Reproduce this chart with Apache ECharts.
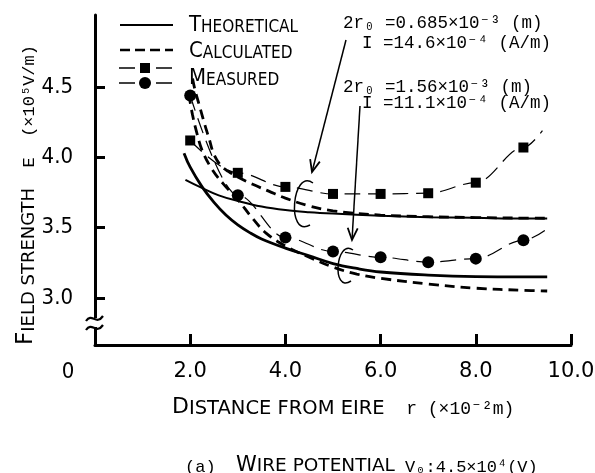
<!DOCTYPE html>
<html><head><meta charset="utf-8">
<script src="https://cdn.jsdelivr.net/npm/echarts@6/dist/echarts.min.js"></script>
<style>html,body{margin:0;padding:0;background:#fff}#c{width:595px;height:473px}</style>
</head><body><div id="c"></div>
<script>
// ---- data ----
const xTickValues = [2, 4, 6, 8, 10];
const yTickValues = [3.0, 3.5, 4.0, 4.5];

const theoUpperX = [1.9, 2.2, 2.6, 3.0, 3.5, 4.0, 4.5, 5.0, 6.0, 7.0, 8.0, 9.0, 9.5];
const theoUpperY = [3.84, 3.79, 3.73, 3.69, 3.65, 3.625, 3.61, 3.60, 3.585, 3.575, 3.57, 3.565, 3.565];
const theoLowerX = [1.87, 2.0, 2.25, 2.5, 2.75, 3.0, 3.25, 3.5, 4.0, 4.5, 5.0, 5.5, 6.0, 7.0, 8.0, 9.0, 9.5];
const theoLowerY = [4.03, 3.93, 3.79, 3.68, 3.59, 3.52, 3.465, 3.42, 3.355, 3.30, 3.245, 3.21, 3.185, 3.163, 3.152, 3.15, 3.15];
const calcUpperX = [2.05, 2.1, 2.2, 2.3, 2.4, 2.5, 2.65, 2.8, 3.0, 3.3, 3.65, 4.0, 4.5, 5.0, 6.0, 7.0, 8.0, 9.0, 9.5];
const calcUpperY = [4.56, 4.48, 4.36, 4.24, 4.13, 4.02, 3.94, 3.90, 3.86, 3.81, 3.76, 3.71, 3.655, 3.62, 3.59, 3.578, 3.572, 3.568, 3.567];
const calcLowerX = [1.97, 2.05, 2.15, 2.25, 2.45, 2.7, 3.0, 3.3, 3.6, 4.0, 4.5, 5.0, 5.5, 6.0, 7.0, 8.0, 9.0, 9.5];
const calcLowerY = [4.45, 4.30, 4.16, 4.05, 3.92, 3.81, 3.70, 3.57, 3.46, 3.37, 3.29, 3.22, 3.17, 3.14, 3.10, 3.07, 3.055, 3.05];
const measX = [2, 3, 4, 5, 6, 7, 8, 9];
const measSquareY = [4.12, 3.89, 3.79, 3.74, 3.74, 3.745, 3.82, 4.07];
const measCircleY = [4.44, 3.73, 3.43, 3.33, 3.29, 3.255, 3.28, 3.41];
const squareLineEnd = [9.4, 4.19];
const circleLineEnd = [9.45, 3.48];

const NARROW = '"DejaVu Sans Condensed","Liberation Sans Narrow","Roboto Condensed","DejaVu Sans",sans-serif';
const WIDE = '"DejaVu Sans",sans-serif';
const MONO = '"Liberation Mono","DejaVu Sans Mono",monospace';

const pairs = (xs, ys) => xs.map((x, i) => [x, ys[i]]);

const chart = echarts.init(document.getElementById('c'), null, {renderer: 'canvas'});

const legendCaps = {
  b: {fontFamily: NARROW, fontSize: 22, color: '#000', verticalAlign: 'bottom', lineHeight: 24},
  s: {fontFamily: NARROW, fontSize: 17, color: '#000', verticalAlign: 'bottom', lineHeight: 22}
};
const titleCaps = {
  b: {fontFamily: WIDE, fontSize: 23, color: '#000', verticalAlign: 'bottom', lineHeight: 26},
  s: {fontFamily: WIDE, fontSize: 18, color: '#000', verticalAlign: 'bottom', lineHeight: 23},
  m: {fontFamily: MONO, fontSize: 17, color: '#000', verticalAlign: 'bottom', lineHeight: 23}
};
const xTitleCaps = {
  b: {fontFamily: WIDE, fontSize: 22, color: '#000', verticalAlign: 'bottom', lineHeight: 25},
  s: {fontFamily: WIDE, fontSize: 19.5, color: '#000', verticalAlign: 'bottom', lineHeight: 24},
  m: {fontFamily: MONO, fontSize: 18, color: '#000', verticalAlign: 'bottom', lineHeight: 24}
};
const captionCaps = {
  b: {fontFamily: WIDE, fontSize: 21, color: '#000', verticalAlign: 'bottom', lineHeight: 24},
  s: {fontFamily: WIDE, fontSize: 18.5, color: '#000', verticalAlign: 'bottom', lineHeight: 23},
  m: {fontFamily: MONO, fontSize: 17, color: '#000', verticalAlign: 'bottom', lineHeight: 23}
};

function arrow(x1, y1, x2, y2) {
  const dx = x2 - x1, dy = y2 - y1, L = Math.hypot(dx, dy);
  const ux = dx / L, uy = dy / L, px = -uy, py = ux;
  const bx = x2 - 12 * ux, by = y2 - 12 * uy;
  return [
    {type: 'line', shape: {x1, y1, x2, y2}, style: {stroke: '#000', lineWidth: 1.5}, z: 100},
    {type: 'polyline', shape: {points: [[bx + 5 * px, by + 5 * py], [x2, y2], [bx - 5 * px, by - 5 * py]]},
     style: {stroke: '#000', lineWidth: 1.8, fill: null}, z: 100}
  ];
}

const annStyle = {fontFamily: MONO, fontSize: 17.5, fill: '#000', verticalAlign: 'middle', align: 'left'};

const graphics = [
  // legend
  {type: 'line', shape: {x1: 120, y1: 25, x2: 173, y2: 25}, style: {stroke: '#000', lineWidth: 2}},
  {type: 'line', shape: {x1: 120, y1: 50, x2: 173, y2: 50}, style: {stroke: '#000', lineWidth: 2.5, lineDash: [10, 5]}},
  {type: 'line', shape: {x1: 119, y1: 68, x2: 135, y2: 68}, style: {stroke: '#000', lineWidth: 1.5}},
  {type: 'line', shape: {x1: 156, y1: 68, x2: 172, y2: 68}, style: {stroke: '#000', lineWidth: 1.5}},
  {type: 'rect', shape: {x: 140, y: 63, width: 10, height: 10}, style: {fill: '#000'}},
  {type: 'line', shape: {x1: 119, y1: 83, x2: 135, y2: 83}, style: {stroke: '#000', lineWidth: 1.5}},
  {type: 'line', shape: {x1: 156, y1: 83, x2: 172, y2: 83}, style: {stroke: '#000', lineWidth: 1.5}},
  {type: 'circle', shape: {cx: 145, cy: 83, r: 6}, style: {fill: '#000'}},
  {type: 'text', x: 189, y: 24, style: {text: '{b|T}{s|HEORETICAL}', rich: legendCaps, verticalAlign: 'middle'}},
  {type: 'text', x: 189, y: 50, style: {text: '{b|C}{s|ALCULATED}', rich: legendCaps, verticalAlign: 'middle'}},
  {type: 'text', x: 189, y: 77, style: {text: '{b|M}{s|EASURED}', rich: legendCaps, verticalAlign: 'middle'}},
  // annotations
  {type: 'text', x: 343, y: 23, style: Object.assign({text: '2r\u2080 =0.685\u00d710\u207b\u00b3 (m)'}, annStyle)},
  {type: 'text', x: 362, y: 43, style: Object.assign({text: 'I =14.6\u00d710\u207b\u2074 (A/m)'}, annStyle)},
  {type: 'text', x: 343, y: 87, style: Object.assign({text: '2r\u2080 =1.56\u00d710\u207b\u00b3 (m)'}, annStyle)},
  {type: 'text', x: 362, y: 103, style: Object.assign({text: 'I =11.1\u00d710\u207b\u2074 (A/m)'}, annStyle)},
  ...arrow(346, 40, 312, 172),
  ...arrow(360, 106, 352, 240),
  // brackets grouping the curves
  {type: 'bezierCurve', shape: {x1: 313, y1: 183, cpx1: 292, cpy1: 168, cpx2: 286, cpy2: 238, x2: 310, y2: 225},
   style: {stroke: '#000', lineWidth: 1.5, fill: null}, z: 100},
  {type: 'bezierCurve', shape: {x1: 353, y1: 250, cpx1: 336, cpy1: 238, cpx2: 331, cpy2: 294, x2: 351, y2: 281},
   style: {stroke: '#000', lineWidth: 1.5, fill: null}, z: 100},
  // y axis break
  {type: 'rect', shape: {x: 89, y: 318, width: 12, height: 9}, style: {fill: '#fff'}, z: 100},
  {type: 'bezierCurve', shape: {x1: 86, y1: 321, cpx1: 92, cpy1: 312, cpx2: 96, cpy2: 326, x2: 103, y2: 316},
   style: {stroke: '#000', lineWidth: 2.2, fill: null}, z: 101},
  {type: 'bezierCurve', shape: {x1: 86, y1: 330, cpx1: 92, cpy1: 321, cpx2: 96, cpy2: 335, x2: 103, y2: 325},
   style: {stroke: '#000', lineWidth: 2.2, fill: null}, z: 101},
  // origin label
  {type: 'text', x: 68, y: 372, style: {text: '0', fontFamily: NARROW, fontSize: 22, fill: '#000', align: 'center', verticalAlign: 'middle'}},
  // axis titles
  {type: 'text', x: 25, y: 195, rotation: Math.PI / 2,
   style: {text: '{b|F}{s|IELD STRENGTH}{m|  E  (\u00d710\u2075V/m)}', rich: titleCaps, align: 'center', verticalAlign: 'middle'}},
  {type: 'text', x: 172, y: 406,
   style: {text: '{b|D}{s|ISTANCE FROM EIRE}{m|  r (\u00d710\u207b\u00b2m)}', rich: xTitleCaps, align: 'left', verticalAlign: 'middle'}},
  {type: 'text', x: 185, y: 464,
   style: {text: '{m|(a)  }{b|W}{s|IRE POTENTIAL}{m| V\u2080:4.5\u00d710\u2074(V)}', rich: captionCaps, align: 'left', verticalAlign: 'middle'}}
];

const option = {
  animation: false,
  backgroundColor: '#fff',
  grid: {left: 95, right: 24, top: 15, bottom: 128, outerBoundsMode: 'none'},
  xAxis: {
    type: 'value', min: 0, max: 10,
    axisLine: {onZero: false, lineStyle: {color: '#000', width: 3}},
    axisTick: {inside: true, length: 11, customValues: xTickValues, lineStyle: {color: '#000', width: 3}},
    axisLabel: {customValues: xTickValues, formatter: v => v.toFixed(1), margin: 16, fontSize: 21, fontFamily: WIDE, color: '#000'},
    splitLine: {show: false}
  },
  yAxis: {
    type: 'value', min: 2.666, max: 5.012,
    axisLine: {show: true, onZero: false, lineStyle: {color: '#000', width: 3}},
    axisTick: {show: true, inside: true, length: 10, customValues: yTickValues, lineStyle: {color: '#000', width: 3}},
    axisLabel: {customValues: yTickValues, formatter: v => v.toFixed(1), margin: 22, fontSize: 22, fontFamily: NARROW, color: '#000'},
    splitLine: {show: false}
  },
  series: [
    {name: 'Theoretical 0.685', type: 'line', data: pairs(theoUpperX, theoUpperY), smooth: 0.4, symbol: 'none',
     lineStyle: {color: '#000', width: 2}},
    {name: 'Theoretical 1.56', type: 'line', data: pairs(theoLowerX, theoLowerY), smooth: 0.4, symbol: 'none',
     lineStyle: {color: '#000', width: 2.8}},
    {name: 'Calculated 0.685', type: 'line', data: pairs(calcUpperX, calcUpperY), smooth: 0.4, symbol: 'none',
     lineStyle: {color: '#000', width: 2.8, type: [10, 6]}},
    {name: 'Calculated 1.56', type: 'line', data: pairs(calcLowerX, calcLowerY), smooth: 0.4, symbol: 'none',
     lineStyle: {color: '#000', width: 2.8, type: [10, 6]}},
    {name: 'Measured 0.685', type: 'line',
     data: pairs(measX, measSquareY).concat([{value: squareLineEnd, symbol: 'none'}]),
     smooth: 0.35, smoothMonotone: 'x', symbol: 'rect', symbolSize: 10,
     itemStyle: {color: '#000'}, lineStyle: {color: '#000', width: 1.2, type: [16, 8]}},
    {name: 'Measured 1.56', type: 'line',
     data: pairs(measX, measCircleY).concat([{value: circleLineEnd, symbol: 'none'}]),
     smooth: 0.35, smoothMonotone: 'x', symbol: 'circle', symbolSize: 12,
     itemStyle: {color: '#000'}, lineStyle: {color: '#000', width: 1.2, type: [16, 8]}}
  ],
  graphic: {elements: graphics}
};
chart.setOption(option);
</script>
</body></html>
